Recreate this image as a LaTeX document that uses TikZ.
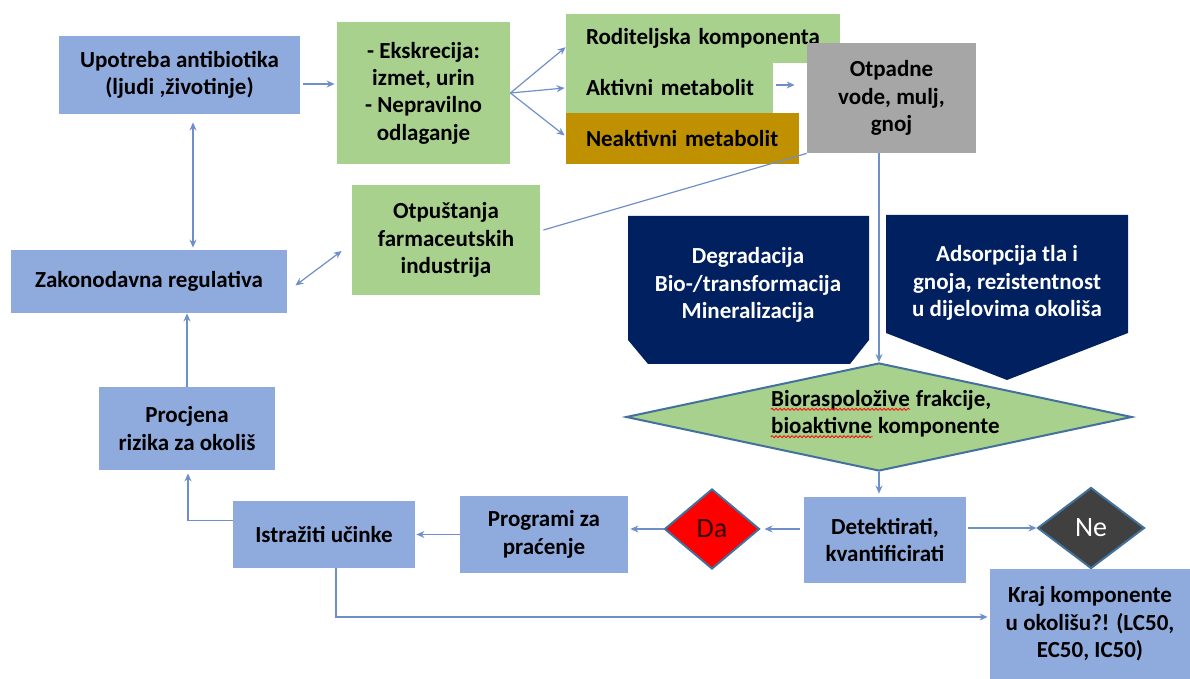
\documentclass[tikz,border=0pt]{standalone}
\usepackage{fontspec}
\setmainfont{Carlito}
\usepackage{xcolor}
\usepackage{tikz}
\usetikzlibrary{arrows.meta}
\usetikzlibrary{calc}
\usetikzlibrary{positioning}
\usetikzlibrary{shapes.geometric}
\usetikzlibrary{decorations.pathmorphing}

\definecolor{boxblue}{HTML}{8FAADC}
\definecolor{boxgreen}{HTML}{A9D18E}
\definecolor{boxgold}{HTML}{BF9000}
\definecolor{boxgray}{HTML}{A6A6A6}
\definecolor{navyblue}{HTML}{002060}
\definecolor{linkblue}{HTML}{6F8FCB}
\definecolor{rimblue}{HTML}{41719C}
\definecolor{negray}{HTML}{404040}

\newcommand{\spellwave}[1]{\tikz[baseline=(w.base)]{\node[inner sep=0pt] (w) {#1};
    \draw[red, line width=0.4pt, decorate, decoration={snake, amplitude=0.5pt, segment length=2pt}]
      ([yshift=-1.6pt]w.base west) -- ([yshift=-1.6pt]w.base east);}}

\begin{document}
\begin{tikzpicture}[x=0.5pt,y=-0.5pt,
    >={Stealth[length=4pt,width=3.5pt]},
    every node/.style={font=\bfseries\fontsize{11.5pt}{13.7pt}\selectfont, inner sep=0pt, align=center},
    bluebox/.style={fill=boxblue},
    greenbox/.style={fill=boxgreen},
    link/.style={color=linkblue, line width=0.6pt},
    bigtext/.style={font=\fontsize{14pt}{16pt}\selectfont}]
    \useasboundingbox (0,0) rectangle (1190,679);

    % top row
    \node[bluebox, minimum width=120.5pt, minimum height=39pt] (U) at (179.5,75) {Upotreba antibiotika\\(ljudi ,životinje)};
    \node[greenbox, minimum width=86.5pt, minimum height=71pt] (E) at (423.5,93) {- Ekskrecija:\\izmet, urin\\- Nepravilno\\odlaganje};
    \node[greenbox, minimum width=137pt, minimum height=24.5pt, text width=129pt, align=left] (R) at (703,38.5) {\hspace*{6pt}Roditeljska komponenta};
    \node[greenbox, minimum width=103.5pt, minimum height=25pt, text width=95.5pt, align=left] (AM) at (669.5,88) {\hspace*{6pt}Aktivni metabolit};
    \node[fill=boxgold, minimum width=116.5pt, minimum height=25.5pt, text width=108.5pt, align=left] (NM) at (682.5,138.5) {\hspace*{6pt}Neaktivni metabolit};
    \node[fill=boxgray, minimum width=84.5pt, minimum height=55pt] (O) at (891.5,98) {Otpadne\\vode, mulj,\\gnoj};

    % left column
    \node[greenbox, minimum width=94pt, minimum height=55pt] (F) at (446,240) {Otpuštanja\\farmaceutskih\\industrija};
    \node[bluebox, minimum width=138pt, minimum height=31.5pt] (Z) at (149,281.5) {Zakonodavna regulativa};
    \node[bluebox, minimum width=88pt, minimum height=41.5pt] (P) at (187,428.5) {Procjena\\rizika za okoliš};

    % navy blocks
    \fill[navyblue] (628,216) -- (869,216) -- (869,340) -- (850,364) -- (648,364) -- (628,340) -- cycle;
    \fill[navyblue] (886,215) -- (1128,215) -- (1128,333) -- (1007,380) -- (886,333) -- cycle;
    \node[text=white] (D1) at (748,285) {Degradacija\\Bio-/transformacija\\Mineralizacija};
    \node[text=white] (D2) at (1007,283) {Adsorpcija tla i\\gnoja, rezistentnost\\u dijelovima okoliša};

    \node[diamond, fill=boxgreen, draw=rimblue, line width=1pt, minimum width=253pt, minimum height=54pt] (B) at (879,417) {};
    \node[align=left] (BT) at (885,414) {\spellwave{Bioraspoložive} frakcije,\\\spellwave{bioaktivne} komponente};

    % bottom row
    \node[bluebox, minimum width=91pt, minimum height=33.5pt] (I) at (324,534.5) {Istražiti učinke};
    \node[bluebox, minimum width=84pt, minimum height=38.5pt] (PP) at (544,534.5) {Programi za\\praćenje};
    \node[diamond, fill=red, draw=rimblue, line width=1pt, minimum width=47.5pt, minimum height=40pt, bigtext, text=black!80!red] (DA) at (712,529) {Da};
    \node[bluebox, minimum width=81pt, minimum height=43pt] (DK) at (885,540) {Detektirati,\\kvantificirati};
    \node[diamond, fill=negray, draw=rimblue, line width=1pt, minimum width=53.5pt, minimum height=40.5pt, bigtext, text=white] (NE) at (1091,528) {Ne};
    \node[bluebox, minimum width=100pt, minimum height=55pt] (K) at (1090,624) {Kraj komponente\\u okolišu?! (LC50,\\EC50, IC50)};

    % connectors
    \path [->, link] ($(U.east)+(3,9)$) edge ($(E.west)+(-2,-9)$);
    \path [->, link] (E.east) edge ($(R.west)!0.35!(R.south west)$);
    \path [->, link] (E.east) edge ($(AM.west)+(-1,0)$);
    \path [->, link] (E.east) edge ($(NM.west)+(-1,-3)$);
    \path [->, link] ($(AM.east)+(3,-3)$) edge ($(O.west |- AM.east)+(-12,-3)$);
    \path [link] ($(F.east)+(3,-10)$) edge (O.south west);
    \path [->, link] (O.south -| B.north) edge (B.north);
    \path [->, link] (B.south) edge ($(B.south |- DK.north)+(0,-3)$);
    \path [->, link] ($(DK.west |- DA.east)+(-4,0)$) edge ($(DA.east)+(4,0)$);
    \path [->, link] (DA.west) edge ($(DA.west -| PP.east)+(2,0)$);
    \path [->, link] ($(DK.east |- NE.west)+(2,0)$) edge (NE.west);
    \path [->, link] (PP.west) edge ($(I.east)+(1,0)$);
    \draw [->, link] ($(I.west)+(0,-14)$) -| ($(P.south)+(1,3)$);
    \path [->, link] (P.north) edge (P.north |- Z.south);
    \path [<->, link] ($(U.south)+(13.5,8)$) edge ($(Z.north)+(44,-2)$);
    \path [<->, link] ($(Z.east)+(8,4)$) edge ($(F.west)+(-10,11)$);
    \draw [->, link] ($(I.south)+(12,0)$) |- ($(K.west)+(-2,-7)$);
\end{tikzpicture}
\end{document}
